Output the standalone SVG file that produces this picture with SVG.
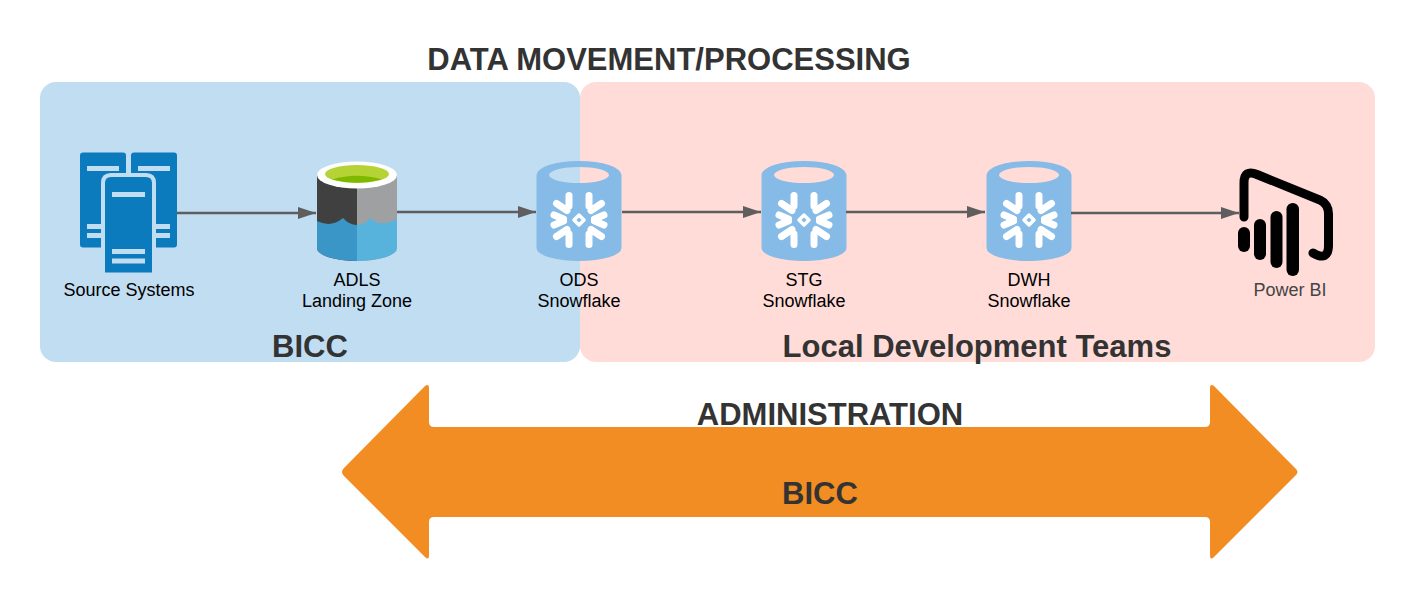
<svg xmlns="http://www.w3.org/2000/svg" width="1415" height="602" viewBox="0 0 1415 602">
<style>
text{font-family:"Liberation Sans",Arial,sans-serif;text-anchor:middle;fill:#000}
.s{font-size:18px}
.h{font-size:31px;font-weight:700;fill:#333}
.c{stroke:#5e5e5e;stroke-width:2.300;fill:none;marker-end:url(#a)}
</style>
<defs>
<marker id="a" markerUnits="userSpaceOnUse" markerWidth="19" markerHeight="14" refX="18" refY="6" orient="auto"><path d="M0 0L18 6L0 12Z" fill="#5e5e5e"/></marker>
<path id="q" d="M-10-24.500V-14M-22.500-16.500L-12-9.500M-25-5L-15.500-1"/>
<g id="sn">
<path fill-rule="evenodd" fill="#85bbe6" d="M-42.500-36A42.500 14 0 0 1 42.500-36V37A42.500 13 0 0 1-42.500 37ZM-30-36A30 8 0 0 0 30-36A30 8 0 0 0-30-36Z"/>
<g transform="translate(0 9)" stroke="#fff" stroke-width="7" stroke-linecap="round" stroke-linejoin="round" fill="none">
<use href="#q"/>
<use href="#q" transform="scale(-1 1)"/>
<use href="#q" transform="scale(1 -1)"/>
<use href="#q" transform="scale(-1 -1)"/>
<path d="M0-5L5 0L0 5L-5 0Z" stroke-width="3.500" fill="#85bbe6"/>
</g>
</g>
</defs>
<rect id="bicc-panel" x="40" y="82" width="540" height="280" rx="16" fill="#c1ddf2"/>
<rect id="local-panel" x="580" y="82" width="795" height="280" rx="16" fill="#ffdcd8"/>
<path id="admin-arrow" d="M429 422V388Q429 383 425 386L344 468Q340 472 344 476L425 557Q429 561 429 555V522Q429 517 434 517H1205Q1210 517 1210 522V555Q1210 561 1214 557L1295 476Q1300 472 1295 468L1214 386Q1210 383 1210 388V422Q1210 427 1205 427H434Q429 427 429 422Z" fill="#f18d23"/>
<g id="source-systems">
<rect x="80" y="152.500" width="46" height="95" rx="3" fill="#0c7bbd"/>
<rect x="131" y="152.500" width="46" height="95" rx="3" fill="#0c7bbd"/>
<g fill="#c1ddf2"><rect x="87" y="166" width="32" height="5"/><rect x="138" y="166" width="32" height="5"/><rect x="87" y="224" width="14" height="5"/><rect x="87" y="233" width="14" height="5"/><rect x="156" y="224" width="14" height="5"/><rect x="156" y="233" width="14" height="5"/></g>
<path d="M101 248V183Q101 173 111 173H146Q156 173 156 183V248H152V273H105V248Z" fill="#c1ddf2"/>
<path d="M105 272.500V183Q105 177 111 177H146Q152 177 152 183V272.500Z" fill="#0c7bbd"/>
<g fill="#c1ddf2"><rect x="112" y="192" width="33" height="5"/><rect x="112" y="249" width="33" height="5"/><rect x="112" y="258.500" width="33" height="5"/></g>
<text class="s" x="129" y="296">Source Systems</text>
</g>
<g id="adls">
<path d="M317 175H357V261A40 13 0 0 1 317 248Z" fill="#404040"/>
<path d="M357 175H397V248A40 13 0 0 1 357 261Z" fill="#9fa0a2"/>
<path d="M317 221Q331 228 343 218Q349 225 357 225V261A40 13 0 0 1 317 248Z" fill="#3a96c6"/>
<path d="M357 225Q365 225 370 218Q381 228 397 219V248A40 13 0 0 1 357 261Z" fill="#57b3dc"/>
<ellipse cx="357" cy="175" rx="40" ry="13.500" fill="#fff"/>
<ellipse cx="357" cy="174" rx="32" ry="9" fill="#b5d334"/>
<path d="M332 179.500Q357 172 382 179.500Q357 186 332 179.500Z" fill="#7eb900"/>
<text class="s" x="357" y="285.500">ADLS</text>
<text class="s" x="357" y="307">Landing Zone</text>
</g>
<g id="ods"><use href="#sn" x="579" y="211"/><text class="s" x="579" y="285.500">ODS</text><text class="s" x="579" y="306.500">Snowflake</text></g>
<g id="stg"><use href="#sn" x="804" y="211"/><text class="s" x="804" y="285.500">STG</text><text class="s" x="804" y="306.500">Snowflake</text></g>
<g id="dwh"><use href="#sn" x="1029" y="211"/><text class="s" x="1029" y="285.500">DWH</text><text class="s" x="1029" y="306.500">Snowflake</text></g>
<g id="powerbi">
<path d="M1244 217V183Q1244 169 1257 174.500L1320 200Q1328.500 204 1328.500 214V245Q1328.500 262 1313 253" fill="none" stroke="#000" stroke-width="9" stroke-linecap="round"/>
<g fill="#000"><rect x="1238" y="227" width="12" height="25" rx="6"/><rect x="1254" y="219" width="12" height="41" rx="6"/><rect x="1270.500" y="211" width="12" height="57" rx="6"/><rect x="1286.500" y="203" width="12.500" height="73" rx="6.200"/></g>
<text class="s" x="1290" y="295.500" style="fill:#444">Power BI</text>
</g>
<g id="connectors">
<path class="c" d="M177 213H316"/>
<path class="c" d="M397 212H536"/>
<path class="c" d="M622 212H761"/>
<path class="c" d="M846 212H985"/>
<path class="c" d="M1071 213H1239"/>
</g>
<text class="h" x="669" y="70">DATA MOVEMENT/PROCESSING</text>
<text class="h" x="310" y="357">BICC</text>
<text class="h" x="977" y="357">Local Development Teams</text>
<text class="h" x="830" y="425">ADMINISTRATION</text>
<text class="h" x="820" y="504">BICC</text>
</svg>
